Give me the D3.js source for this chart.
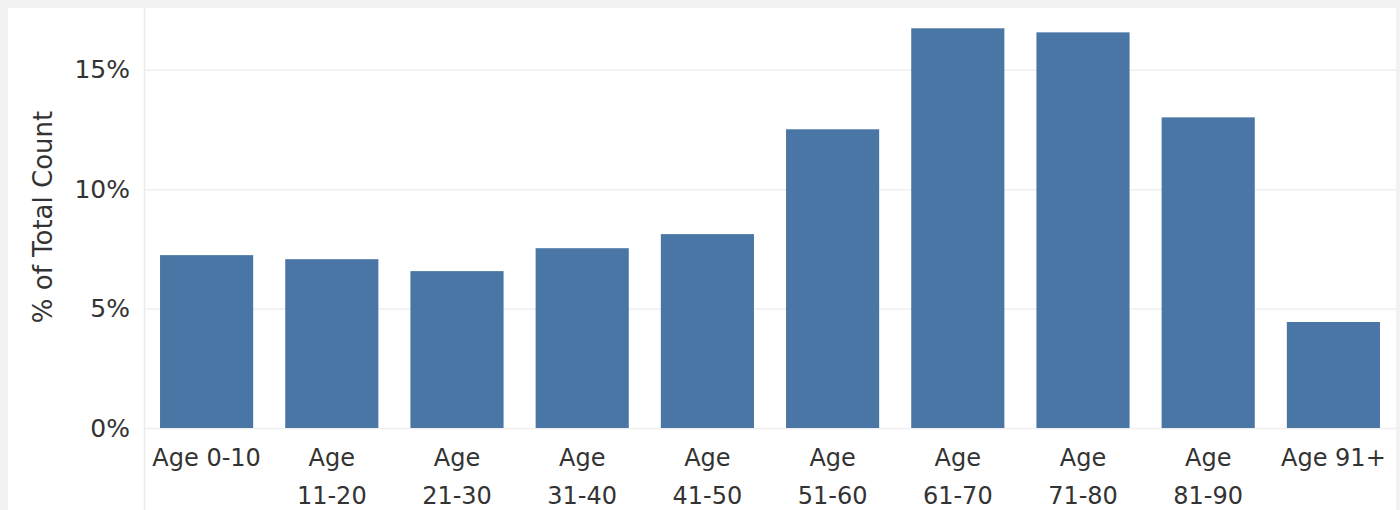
<!DOCTYPE html>
<html>
<head>
<meta charset="utf-8">
<script src="https://cdn.jsdelivr.net/npm/d3@7"></script>
<style>
  body { margin: 0; background: #f2f2f2; }
  svg { display: block; }
</style>
</head>
<body>
<div id="chart"></div>
<script>
// age groups and share of total count (%)
const groups = ["Age 0-10", "Age 11-20", "Age 21-30", "Age 31-40", "Age 41-50",
                "Age 51-60", "Age 61-70", "Age 71-80", "Age 81-90", "Age 91+"];
const shares = [7.24, 7.07, 6.57, 7.53, 8.12, 12.51, 16.74, 16.57, 13.01, 4.44];
const yTicks = [0, 5, 10, 15];

const w = 1400, h = 510;
const panel = { x: 8, y: 8, w: 1388, h: 502 };
const plot = { left: 144, right: 1396, top: 8, bottom: 428 };
const font = "'DejaVu Sans', sans-serif";

const svg = d3.select("#chart")
    .append("svg")
    .attr("width", w)
    .attr("height", h);

// white panel
svg.append("rect")
    .attr("x", panel.x)
    .attr("y", panel.y)
    .attr("width", panel.w)
    .attr("height", panel.h)
    .attr("fill", "#ffffff");

const xScale = d3.scaleBand()
    .domain(groups)
    .range([plot.left, plot.right])
    .paddingInner(0.256)
    .paddingOuter(0.128);

const yScale = d3.scaleLinear()
    .domain([0, 17.59])
    .range([plot.bottom, plot.top]);

// gridlines
svg.append("g")
    .selectAll("line")
    .data(yTicks)
    .enter()
    .append("line")
    .attr("x1", plot.left)
    .attr("x2", plot.right)
    .attr("y1", d => yScale(d) + 0.5)
    .attr("y2", d => yScale(d) + 0.5)
    .attr("stroke", "#efefef")
    .attr("stroke-width", 1.5);

// divider between labels and plot
svg.append("line")
    .attr("x1", plot.left + 0.5)
    .attr("x2", plot.left + 0.5)
    .attr("y1", panel.y)
    .attr("y2", h)
    .attr("stroke", "#ececec")
    .attr("stroke-width", 1.5);

// bars
svg.append("g")
    .selectAll("rect")
    .data(groups)
    .enter()
    .append("rect")
    .attr("x", d => xScale(d))
    .attr("y", (d, i) => yScale(shares[i]))
    .attr("width", xScale.bandwidth())
    .attr("height", (d, i) => yScale(0) - yScale(shares[i]))
    .attr("fill", "#4a76a5");

// y axis labels
const yAxis = svg.append("g")
    .attr("transform", `translate(${plot.left}, 0)`)
    .call(d3.axisLeft(yScale).tickValues(yTicks).tickSize(0).tickPadding(14).tickFormat(d => d + "%"));
yAxis.select(".domain").remove();
yAxis.selectAll("text")
    .attr("font-family", font)
    .attr("font-size", 25)
    .attr("fill", "#333333");

// x axis labels, wrapped on two lines except where they fit
const xAxis = svg.append("g")
    .attr("transform", `translate(0, ${plot.bottom})`)
    .call(d3.axisBottom(xScale).tickSize(0).tickFormat(""));
xAxis.select(".domain").remove();

xAxis.selectAll(".tick")
    .append("text")
    .attr("font-family", font)
    .attr("font-size", 24)
    .attr("fill", "#333333")
    .attr("text-anchor", "middle")
    .each(function(d) {
        const t = d3.select(this);
        if (d === "Age 0-10" || d === "Age 91+") {
            t.append("tspan").attr("x", 0).attr("y", 38).text(d);
        } else {
            const parts = d.split(" ");
            t.append("tspan").attr("x", 0).attr("y", 38).text(parts[0]);
            t.append("tspan").attr("x", 0).attr("y", 76).text(parts[1]);
        }
    });

// y axis title
svg.append("text")
    .attr("transform", "rotate(-90)")
    .attr("x", -217)
    .attr("y", 52)
    .attr("text-anchor", "middle")
    .attr("font-family", font)
    .attr("font-size", 26)
    .attr("fill", "#333333")
    .text("% of Total Count");
</script>
</body>
</html>
